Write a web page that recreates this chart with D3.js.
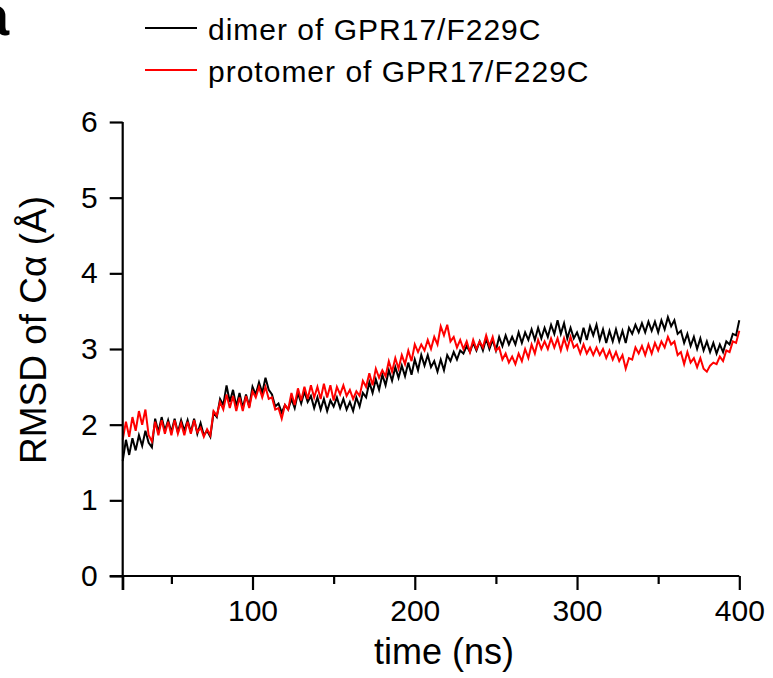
<!DOCTYPE html>
<html>
<head>
<meta charset="utf-8">
<script src="https://cdn.jsdelivr.net/npm/d3@7"></script>
<style>
  html, body { margin: 0; padding: 0; background: #fff; }
  svg { display: block; }
  text { font-family: "Liberation Sans", Arial, Helvetica, sans-serif; fill: #000; }
</style>
</head>
<body>
<svg id="chart" width="773" height="678"></svg>
<script>
// ---- data (time in ns, RMSD in Å), sampled every 2 ns from 20 to 400 ----
const timeStart = 20;
const timeStep = 2;
const dimer = [
  1.52, 1.80, 1.60, 1.82, 1.66, 1.86, 1.72, 1.92, 1.76, 1.70,
  2.08, 1.90, 2.10, 1.92, 2.06, 1.90, 2.08, 1.90, 2.06, 1.92,
  2.06, 1.90, 2.08, 1.88, 2.02, 1.86, 1.92, 1.84, 2.16, 2.10,
  2.34, 2.26, 2.52, 2.30, 2.46, 2.24, 2.42, 2.22, 2.40, 2.24,
  2.50, 2.40, 2.56, 2.42, 2.62, 2.46, 2.40, 2.24, 2.28, 2.16,
  2.26, 2.20, 2.34, 2.22, 2.42, 2.28, 2.44, 2.30, 2.38, 2.22,
  2.36, 2.20, 2.34, 2.18, 2.32, 2.24, 2.36, 2.22, 2.34, 2.20,
  2.30, 2.18, 2.36, 2.24, 2.42, 2.36, 2.56, 2.42, 2.60, 2.46,
  2.66, 2.52, 2.72, 2.58, 2.76, 2.62, 2.78, 2.64, 2.82, 2.66,
  2.86, 2.72, 2.92, 2.78, 2.92, 2.76, 2.84, 2.70, 2.86, 2.72,
  2.92, 2.84, 2.96, 2.86, 2.98, 2.94, 3.04, 2.96, 3.08, 2.98,
  3.10, 2.98, 3.14, 3.00, 3.12, 2.98, 3.16, 3.04, 3.18, 3.06,
  3.16, 3.06, 3.22, 3.08, 3.22, 3.12, 3.26, 3.12, 3.28, 3.14,
  3.28, 3.16, 3.32, 3.20, 3.38, 3.20, 3.34, 3.14, 3.28, 3.14,
  3.22, 3.10, 3.28, 3.12, 3.30, 3.18, 3.32, 3.12, 3.26, 3.08,
  3.24, 3.10, 3.26, 3.10, 3.24, 3.08, 3.28, 3.20, 3.32, 3.22,
  3.34, 3.22, 3.36, 3.24, 3.36, 3.22, 3.38, 3.26, 3.42, 3.30,
  3.38, 3.20, 3.24, 3.08, 3.20, 3.04, 3.16, 3.00, 3.14, 2.98,
  3.10, 2.96, 3.08, 2.94, 3.06, 2.96, 3.10, 3.06, 3.20, 3.18,
  3.38
];
const protomer = [
  1.80, 2.04, 1.84, 2.10, 1.92, 2.18, 2.00, 2.20, 1.86, 1.78,
  2.04, 1.86, 2.06, 1.88, 2.04, 1.86, 2.06, 1.88, 2.02, 1.86,
  2.04, 1.88, 2.06, 1.90, 1.96, 1.84, 1.94, 1.86, 2.18, 2.12,
  2.30, 2.20, 2.40, 2.22, 2.38, 2.18, 2.36, 2.18, 2.38, 2.22,
  2.44, 2.36, 2.50, 2.36, 2.50, 2.34, 2.36, 2.20, 2.22, 2.08,
  2.26, 2.20, 2.42, 2.26, 2.48, 2.32, 2.50, 2.34, 2.52, 2.36,
  2.50, 2.34, 2.54, 2.36, 2.52, 2.32, 2.50, 2.40, 2.52, 2.38,
  2.46, 2.34, 2.44, 2.38, 2.58, 2.50, 2.68, 2.52, 2.74, 2.62,
  2.72, 2.64, 2.84, 2.70, 2.88, 2.74, 2.92, 2.80, 2.98, 2.84,
  3.06, 2.96, 3.06, 2.98, 3.12, 3.00, 3.16, 3.06, 3.30, 3.18,
  3.32, 3.10, 3.16, 3.02, 3.12, 3.00, 3.10, 2.96, 3.12, 3.00,
  3.10, 3.02, 3.18, 3.04, 3.16, 2.98, 3.02, 2.86, 2.94, 2.82,
  2.90, 2.80, 2.94, 2.84, 3.00, 2.88, 3.06, 2.94, 3.12, 3.00,
  3.10, 3.00, 3.14, 3.02, 3.14, 2.98, 3.14, 3.00, 3.16, 3.02,
  3.06, 2.94, 3.06, 2.94, 3.02, 2.92, 3.02, 2.92, 3.00, 2.88,
  2.98, 2.86, 2.96, 2.84, 2.92, 2.74, 2.88, 2.86, 3.02, 2.94,
  3.04, 2.92, 3.06, 2.94, 3.08, 2.98, 3.10, 3.02, 3.16, 3.06,
  3.10, 2.92, 2.96, 2.80, 2.96, 2.82, 2.88, 2.76, 2.88, 2.74,
  2.70, 2.78, 2.82, 2.80, 2.90, 2.84, 2.98, 2.96, 3.10, 3.08,
  3.24
];
const xDomain = [20, 400];
const yDomain = [0, 6];
const xMajorTicks = [20, 100, 200, 300, 400];
const xMinorTicks = [50, 150, 250, 350];
const yTicks = [0, 1, 2, 3, 4, 5, 6];
const seriesNames = ["dimer of GPR17/F229C", "protomer of GPR17/F229C"];
const seriesColors = ["#000000", "#ff0000"];
const xTitle = "time (ns)";
const yTitle = "RMSD of Cα (Å)";
const panelLabel = "a";

// ---- layout ----
const svg = d3.select("#chart");
const plot = { left: 122.7, right: 739.3, top: 122, bottom: 576 };

const x = d3.scaleLinear().domain(xDomain).range([plot.left, plot.right]);
const y = d3.scaleLinear().domain(yDomain).range([plot.bottom, plot.top]);

const toPoints = arr => arr.map((v, i) => ({ t: timeStart + i * timeStep, v }));
const series = [toPoints(dimer), toPoints(protomer)];

const line = d3.line().x(d => x(d.t)).y(d => y(d.v));

// data lines
svg.append("g").selectAll("path")
  .data(series)
  .join("path")
  .attr("d", line)
  .attr("fill", "none")
  .attr("stroke", (d, i) => seriesColors[i])
  .attr("stroke-width", 2)
  .attr("stroke-linejoin", "miter");

// x axis (major)
const xAxis = svg.append("g")
  .attr("transform", `translate(0,${plot.bottom})`)
  .call(d3.axisBottom(x).tickValues(xMajorTicks)
    .tickFormat(d => d === 20 ? "" : d3.format("d")(d))
    .tickSize(14).tickSizeOuter(0).tickPadding(10));
xAxis.select(".domain").attr("stroke-width", 2.2).attr("d", `M${plot.left - 13},0H${plot.right}`);
xAxis.selectAll(".tick line").attr("stroke-width", 2.2);
xAxis.selectAll(".tick text")
  .attr("font-size", 30)
  .style("font-family", '"Liberation Sans", Arial, sans-serif');

// x axis (minor)
const xMinor = svg.append("g")
  .attr("transform", `translate(0,${plot.bottom})`)
  .call(d3.axisBottom(x).tickValues(xMinorTicks).tickFormat("").tickSize(8).tickSizeOuter(0));
xMinor.select(".domain").remove();
xMinor.selectAll(".tick line").attr("stroke-width", 2.2);

// y axis
const yAxis = svg.append("g")
  .attr("transform", `translate(${plot.left},0)`)
  .call(d3.axisLeft(y).tickValues(yTicks).tickFormat(d3.format("d"))
    .tickSize(13).tickSizeOuter(0).tickPadding(12));
yAxis.select(".domain").attr("stroke-width", 2.2).attr("d", `M0,${plot.top}V${plot.bottom + 14}`);
yAxis.selectAll(".tick line").attr("stroke-width", 2.2);
yAxis.selectAll(".tick text")
  .attr("font-size", 30)
  .style("font-family", '"Liberation Sans", Arial, sans-serif');

// axis titles
svg.append("text")
  .attr("x", 444)
  .attr("y", 664)
  .attr("text-anchor", "middle")
  .attr("font-size", 36)
  .text(xTitle);

svg.append("text")
  .attr("transform", `translate(46,330) rotate(-90)`)
  .attr("text-anchor", "middle")
  .attr("font-size", 37)
  .text(yTitle);

// legend
const legend = svg.append("g");
const legendRows = [28, 70];
seriesNames.forEach((name, i) => {
  legend.append("line")
    .attr("x1", 145).attr("x2", 197)
    .attr("y1", legendRows[i]).attr("y2", legendRows[i])
    .attr("stroke", seriesColors[i])
    .attr("stroke-width", 2);
  legend.append("text")
    .attr("x", 208)
    .attr("y", legendRows[i] + 12)
    .attr("font-size", 30)
    .attr("letter-spacing", 1)
    .text(name);
});

// panel label (partly cut off, as in the reference)
svg.append("text")
  .attr("x", -22)
  .attr("y", 35)
  .attr("font-size", 56)
  .attr("font-weight", "bold")
  .text(panelLabel);
</script>
</body>
</html>
